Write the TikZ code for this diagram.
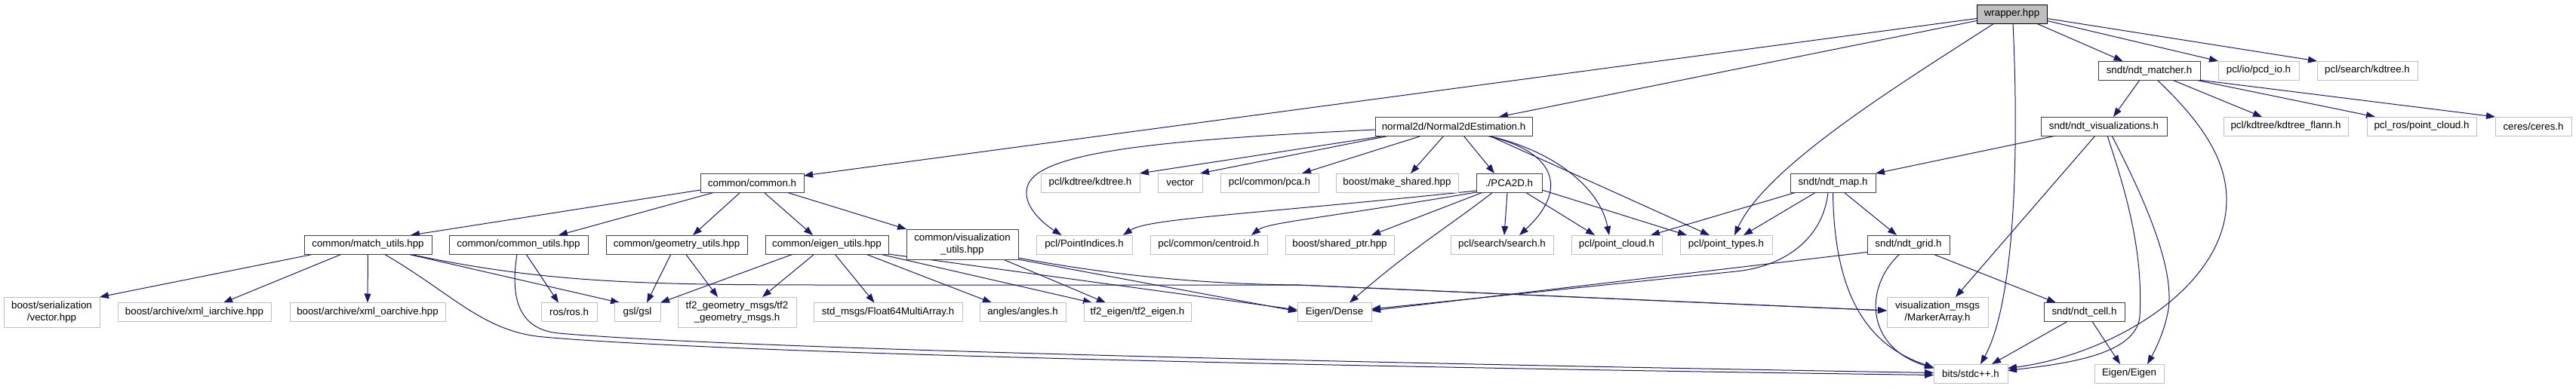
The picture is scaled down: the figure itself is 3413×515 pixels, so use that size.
\documentclass[tikz,border=0pt]{standalone}
\usepackage{fontspec}
\setmainfont{Liberation Sans}
\usetikzlibrary{arrows.meta,calc}
\definecolor{mblue}{HTML}{191970}
\pgfdeclarelayer{edges}
\pgfsetlayers{edges,main}
\begin{document}
\begin{tikzpicture}[x=0.75pt,y=-0.75pt,
  every node/.style={font=\fontsize{10pt}{11.5pt}\selectfont, inner sep=0pt, outer sep=0pt, align=center, line width=0.75pt, fill=white, minimum height=18.75pt},
  doc/.style={draw=black!75},
  ext/.style={draw=black!25},
  root/.style={draw=black, fill=black!25},
  tall/.style={minimum height=30pt},
  bw/.style={minimum width=#1*0.75pt},
  edge/.style={draw=mblue, line width=0.75pt, -{Triangle[length=9pt,width=6.5pt]}}]
\useasboundingbox (0,0) rectangle (3413,515);
% row 0
\node[root,bw=93] (wrapper) at (2665.5,18.5) {wrapper.hpp};
% row 1
\node[doc,bw=135] (matcher) at (2847.5,93.5) {sndt/ndt\_matcher.h};
\node[ext,bw=107] (pcdio) at (2992.5,93.5) {pcl/io/pcd\_io.h};
\node[ext,bw=133] (searchkd) at (3136.5,93.5) {pcl/search/kdtree.h};
% row 2
\node[doc,bw=208] (normal) at (1926,167.5) {normal2d/Normal2dEstimation.h};
\node[doc,bw=167] (vis) at (2787.5,167.5) {sndt/ndt\_visualizations.h};
\node[ext,bw=165] (flann) at (3028.5,167.5) {pcl/kdtree/kdtree\_flann.h};
\node[ext,bw=145] (pclros) at (3208.5,167.5) {pcl\_ros/point\_cloud.h};
\node[ext,bw=101] (ceres) at (3356.5,167.5) {ceres/ceres.h};
% row 3
\node[doc,bw=137] (common) at (996.5,242.5) {common/common.h};
\node[ext,bw=131] (kdtree) at (1444.5,242.5) {pcl/kdtree/kdtree.h};
\node[ext,bw=59] (vector) at (1563.5,242.5) {vector};
\node[ext,bw=130] (pca) at (1682,242.5) {pcl/common/pca.h};
\node[ext,bw=162] (makeshared) at (1851,242.5) {boost/make\_shared.hpp};
\node[doc,bw=87] (pca2d) at (1999.5,242.5) {./PCA2D.h};
\node[doc,bw=113] (ndtmap) at (2428.5,242.5) {sndt/ndt\_map.h};
% row 4
\node[doc,bw=169] (match) at (487.5,324.5) {common/match\_utils.hpp};
\node[doc,bw=184] (cutils) at (687,324.5) {common/common\_utils.hpp};
\node[doc,bw=187] (geo) at (896.5,324.5) {common/geometry\_utils.hpp};
\node[doc,bw=163] (eig) at (1095.5,324.5) {common/eigen\_utils.hpp};
\node[doc,tall,bw=148] (visu) at (1275,324) {common/visualization\\\_utils.hpp};
\node[ext,bw=127] (pidx) at (1436.5,324.5) {pcl/PointIndices.h};
\node[ext,bw=155] (centroid) at (1601.5,324.5) {pcl/common/centroid.h};
\node[ext,bw=144] (sharedptr) at (1775,324.5) {boost/shared\_ptr.hpp};
\node[ext,bw=136] (search) at (1990,324.5) {pcl/search/search.h};
\node[ext,bw=120] (pcloud) at (2142,324.5) {pcl/point\_cloud.h};
\node[ext,bw=122] (ptypes) at (2287,324.5) {pcl/point\_types.h};
\node[doc,bw=109] (grid) at (2528.5,324.5) {sndt/ndt\_grid.h};
% row 5
\node[ext,tall,bw=127] (serial) at (68.5,414) {boost/serialization\\/vector.hpp};
\node[ext,bw=203] (xmli) at (257.5,414) {boost/archive/xml\_iarchive.hpp};
\node[ext,bw=206] (xmlo) at (487,414) {boost/archive/xml\_oarchive.hpp};
\node[ext,bw=74] (ros) at (754,414) {ros/ros.h};
\node[ext,bw=61] (gsl) at (844.5,414) {gsl/gsl};
\node[ext,tall,bw=157] (tf2geo) at (976.5,414) {tf2\_geometry\_msgs/tf2\\\_geometry\_msgs.h};
\node[ext,bw=197] (f64) at (1176.5,414) {std\_msgs/Float64MultiArray.h};
\node[ext,bw=114] (angles) at (1355,414) {angles/angles.h};
\node[ext,bw=142] (tf2eig) at (1507,414) {tf2\_eigen/tf2\_eigen.h};
\node[ext,bw=98] (dense) at (1768,414) {Eigen/Dense};
\node[ext,tall,bw=134] (marker) at (2567,414) {visualization\_msgs\\/MarkerArray.h};
\node[doc,bw=107] (cell) at (2761.5,414) {sndt/ndt\_cell.h};
% row 6
\node[ext,bw=98] (stdcpp) at (2611,495.5) {bits/stdc++.h};
\node[ext,bw=92] (eigen) at (2821,495.5) {Eigen/Eigen};

\begin{pgfonlayer}{edges}
\fill[white] (0,0) rectangle (3413,515);
% wrapper
\draw[edge] ($(wrapper.west)+(0,6)$) -- ($(common.north east)+(0,3)$);
\draw[edge] ($(wrapper.west)+(0,9)$) -- ($(normal.north)+(60,0)$);
\draw[edge] ($(wrapper.south)+(-23.5,0)$) .. controls (2520,110) and (2340,220) .. ($(ptypes.north)+(11,0)$);
\draw[edge] ($(wrapper.south)+(1.5,0)$) .. controls (2675,200) and (2670,400) .. ($(stdcpp.north)+(13,0)$);
\draw[edge] ($(wrapper.south)+(32.5,0)$) -- ($(matcher.north)+(-35,0)$);
\draw[edge] ($(wrapper.east)+(0,9)$) -- (pcdio.north west);
\draw[edge] ($(wrapper.east)+(0,6)$) -- (searchkd.north west);
% matcher
\draw[edge] ($(matcher.south)+(-12.5,0)$) -- ($(vis.north)+(12.5,0)$);
\draw[edge] ($(matcher.south)+(30.5,0)$) -- ($(flann.north)+(-31.5,0)$);
\draw[edge] ($(matcher.south)+(61,0)$) -- ($(pclros.north)+(-61.5,0)$);
\draw[edge] ($(matcher.south east)+(-2,0)$) -- (ceres.north west);
\draw[edge] ($(matcher.south)+(10.5,0)$) .. controls (2915,160) and (2950,210) .. (2950,265) .. controls (2950,380) and (2800,470) .. ($(stdcpp.east)+(0,-7)$);
% vis
\draw[edge] ($(vis.south)+(-63.5,0)$) -- (ndtmap.north east);
\draw[edge] ($(vis.south)+(-11.5,0)$) -- ($(marker.north)+(24,0)$);
\draw[edge] ($(vis.south)+(4.5,0)$) .. controls (2815,250) and (2840,330) .. (2835,420) .. controls (2830,470) and (2740,482) .. ($(stdcpp.east)+(0,-4)$);
\draw[edge] ($(vis.south)+(10.5,0)$) .. controls (2850,280) and (2880,360) .. (2873,410) .. controls (2868,440) and (2855,465) .. ($(eigen.north)+(24,0)$);
% normal
\draw[edge] ($(normal.west)+(0,4.5)$) .. controls (1550,185) and (1380,200) .. (1362,245) .. controls (1352,270) and (1380,295) .. ($(pidx.north)+(-30,0)$);
\draw[edge] ($(normal.south)+(-90,0)$) -- (kdtree.north east);
\draw[edge] ($(normal.south)+(-85,0)$) -- ($(vector.north east)+(-3,0)$);
\draw[edge] ($(normal.south)+(-42,0)$) -- ($(pca.north)+(43,0)$);
\draw[edge] ($(normal.south)+(-13,0)$) -- ($(makeshared.north)+(18,0)$);
\draw[edge] ($(normal.south)+(13,0)$) -- ($(pca2d.north)+(-19.5,0)$);
\draw[edge] ($(normal.south)+(43,0)$) .. controls (2060,200) and (2080,250) .. ($(search.north)+(23,0)$);
\draw[edge] ($(normal.south)+(45,0)$) .. controls (2060,200) and (2120,250) .. ($(pcloud.north)+(-10,0)$);
\draw[edge] ($(normal.south)+(47,0)$) -- ($(ptypes.north)+(-22,0)$);
% pca2d
\draw[edge] ($(pca2d.south west)+(0,-2)$) .. controls (1650,285) and (1520,290) .. ($(pidx.north)+(51.5,0)$);
\draw[edge] (pca2d.south west) .. controls (1750,290) and (1680,295) .. ($(centroid.north)+(56.5,0)$);
\draw[edge] ($(pca2d.south)+(-34.5,0)$) -- ($(sharedptr.north)+(42,0)$);
\draw[edge] ($(pca2d.south)+(-21.5,0)$) .. controls (1920,300) and (1870,330) .. ($(dense.north)+(20,0)$);
\draw[edge] ($(pca2d.south)+(-2.5,0)$) -- ($(search.north)+(3,0)$);
\draw[edge] ($(pca2d.south)+(21.5,0)$) -- ($(pcloud.north)+(-29,0)$);
\draw[edge] ($(pca2d.south east)+(0,-3)$) -- ($(ptypes.north)+(-52,0)$);
% ndtmap
\draw[edge] ($(ndtmap.south)+(-48.5,0)$) -- ($(pcloud.north)+(45,0)$);
\draw[edge] ($(ndtmap.south)+(-22.5,0)$) -- ($(ptypes.north)+(23,0)$);
\draw[edge] ($(ndtmap.south)+(-6.5,0)$) .. controls (2415,320) and (2360,354) .. (2300,360) -- ($(dense.east)+(0,-4)$);
\draw[edge] (ndtmap.south) .. controls (2430,400) and (2480,460) .. ($(stdcpp.west)+(0,-8)$);
\draw[edge] ($(ndtmap.south)+(14.5,0)$) -- ($(grid.north)+(-15.5,0)$);
% grid
\draw[edge] ($(grid.west)+(0,10)$) -- ($(dense.east)+(0,-2)$);
\draw[edge] ($(grid.south)+(-11.5,0)$) .. controls (2470,380) and (2470,460) .. ($(stdcpp.west)+(0,-7)$);
\draw[edge] ($(grid.south)+(32.5,0)$) -- ($(cell.north)+(-37.5,0)$);
% cell
\draw[edge] ($(cell.south)+(-22.5,0)$) -- ($(stdcpp.north)+(28,0)$);
\draw[edge] ($(cell.south)+(10.5,0)$) -- ($(eigen.north)+(-12,0)$);
% common
\draw[edge] ($(common.south west)+(0,-3)$) -- ($(match.north)+(56.5,0)$);
\draw[edge] ($(common.south)+(-49.5,0)$) -- ($(cutils.north)+(53,0)$);
\draw[edge] ($(common.south)+(-15.5,0)$) -- ($(geo.north)+(21.5,0)$);
\draw[edge] ($(common.south)+(15.5,0)$) -- ($(eig.north)+(-18.5,0)$);
\draw[edge] ($(common.south)+(45.5,0)$) -- (visu.north west);
% match
\draw[edge] ($(match.south)+(-71.5,0)$) -- (serial.north east);
\draw[edge] ($(match.south)+(-34.5,0)$) -- ($(xmli.north)+(38.5,0)$);
\draw[edge] (match.south) -- (xmlo.north);
\draw[edge] ($(match.south)+(52.5,0)$) -- ($(gsl.north)+(-23.5,0)$);
\draw[edge] ($(match.south)+(55,0)$) .. controls (720,375) and (850,378) .. (1100,378) -- (1720,378) -- ($(marker.west)+(0,-2)$);
\draw[edge] ($(match.south)+(21.5,0)$) .. controls (600,390) and (640,440) .. (720,447) .. controls (1000,472) and (2000,490) .. ($(stdcpp.west)+(0,2)$);
% cutils
\draw[edge] ($(cutils.south)+(-2,0)$) .. controls (675,400) and (690,437) .. (740,442) .. controls (1000,465) and (2000,485) .. ($(stdcpp.west)+(0,-1)$);
\draw[edge] ($(cutils.south)+(10,0)$) -- ($(ros.north)+(-14,0)$);
% geo
\draw[edge] ($(geo.south)+(-7.5,0)$) -- ($(gsl.north)+(12.5,0)$);
\draw[edge] ($(geo.south)+(12,0)$) -- ($(tf2geo.north)+(-25.5,0)$);
% eig
\draw[edge] ($(eig.south)+(-44.5,0)$) -- (gsl.north east);
\draw[edge] ($(eig.south)+(-16.5,0)$) -- ($(tf2geo.north)+(33.5,0)$);
\draw[edge] ($(eig.south)+(10.5,0)$) -- ($(f64.north)+(-18,0)$);
\draw[edge] ($(eig.south)+(51.5,0)$) -- ($(angles.north)+(-41,0)$);
\draw[edge] ($(eig.south)+(70,0)$) -- ($(tf2eig.north)+(-60,0)$);
\draw[edge] (eig.south east) -- ($(dense.west)+(0,-3)$);
% visu
\draw[edge] ($(visu.south)+(54,0)$) -- ($(tf2eig.north)+(-42,0)$);
\draw[edge] (visu.south east) -- ($(dense.west)+(0,-1)$);
\draw[edge] ($(visu.south east)+(0,-2)$) .. controls (1500,370) and (1620,377) .. (1720,378) -- ($(marker.west)+(0,-2)$);
\end{pgfonlayer}
\end{tikzpicture}
\end{document}
